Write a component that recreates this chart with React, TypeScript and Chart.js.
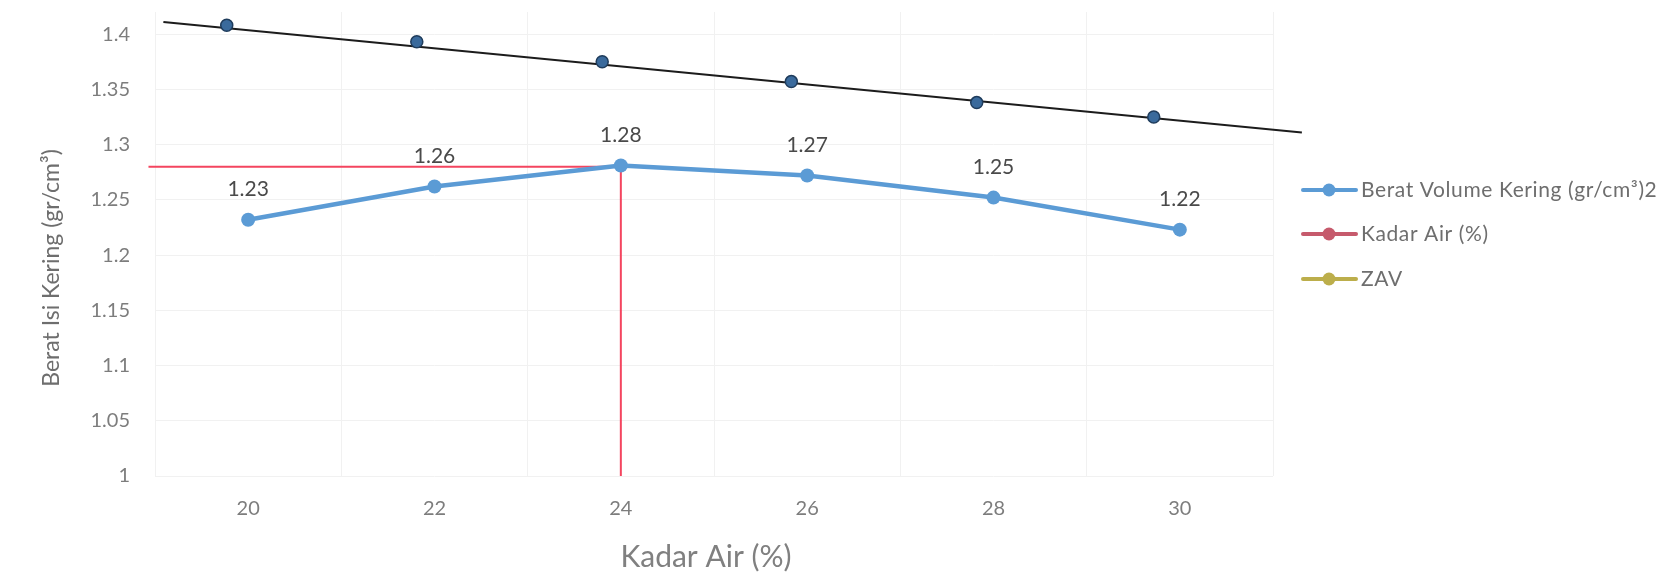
import React, { useEffect, useRef } from "react";
import { Chart, registerables } from "chart.js";

Chart.register(...registerables);

// ---- data ----
const kadarAir = [20, 22, 24, 26, 28, 30];
const beratKering = [1.232, 1.262, 1.281, 1.272, 1.252, 1.223];
const beratLabels = ["1.23", "1.26", "1.28", "1.27", "1.25", "1.22"];

const zavX = [19.77, 21.81, 23.8, 25.83, 27.82, 29.72];
const zavY = [1.408, 1.393, 1.375, 1.357, 1.338, 1.325];

const trendX = [19.09, 31.31];
const trendY = [1.411, 1.311];

const optimumX = [18.93, 24, 24];
const optimumY = [1.28, 1.28, 1.0];

const xTickValues = [20, 22, 24, 26, 28, 30];
const xGridValues = [19, 21, 23, 25, 27, 29, 31];
const yTickValues = [1, 1.05, 1.1, 1.15, 1.2, 1.25, 1.3, 1.35, 1.4];
const yMin = 1;
const yMax = 1.42;
const xMin = 19;
const xMax = 31;

const yTitle = "Berat Isi Kering (gr/cm³)";
const xTitle = "Kadar Air (%)";
const legendLabels = ["Berat Volume Kering (gr/cm³)2", "Kadar Air (%)", "ZAV"];
const legendColors = ["#5B9BD5", "#C65A6C", "#BCAE4B"];

const FONT = "Lato, 'Open Sans', sans-serif";

const toPoints = (xs: number[], ys: number[]) => xs.map((x, i) => ({ x, y: ys[i] }));

export default function App() {
  const ref = useRef<HTMLCanvasElement | null>(null);

  useEffect(() => {
    document.body.style.margin = "0";
    const canvas = ref.current;
    if (!canvas) return;

    const dataLabelPlugin = {
      id: "dataLabelPlugin",
      afterDatasetsDraw(chart: any) {
        const meta = chart.getDatasetMeta(0);
        const ctx = chart.ctx;
        ctx.save();
        ctx.font = `21px ${FONT}`;
        ctx.fillStyle = "#4a4a4a";
        ctx.textAlign = "center";
        ctx.textBaseline = "middle";
        meta.data.forEach((pt: any, i: number) => {
          ctx.fillText(beratLabels[i], pt.x, pt.y - 30);
        });
        ctx.restore();
      },
    };

    const textPlugin = {
      id: "customText",
      afterDraw(chart: any) {
        const ctx = chart.ctx;
        const area = chart.chartArea;
        // y-axis title
        ctx.save();
        ctx.translate(52, 268);
        ctx.rotate(-Math.PI / 2);
        ctx.font = `23px ${FONT}`;
        ctx.fillStyle = "#6e6e6e";
        ctx.textAlign = "center";
        ctx.textBaseline = "middle";
        ctx.fillText(yTitle, 0, 0);
        ctx.restore();

        // x-axis title
        ctx.save();
        ctx.font = `30px ${FONT}`;
        ctx.fillStyle = "#808080";
        ctx.textAlign = "center";
        ctx.textBaseline = "middle";
        ctx.fillText(xTitle, 706, 557);
        ctx.restore();

        // legend
        const x0 = area.right + 30;
        const ys = [190, 234, 279];
        ctx.save();
        legendLabels.forEach((label, i) => {
          const y = ys[i];
          ctx.strokeStyle = legendColors[i];
          ctx.lineWidth = 4;
          ctx.lineCap = "round";
          ctx.beginPath();
          ctx.moveTo(x0, y);
          ctx.lineTo(x0 + 53, y);
          ctx.stroke();
          ctx.fillStyle = legendColors[i];
          ctx.beginPath();
          ctx.arc(x0 + 26, y, 6.5, 0, Math.PI * 2);
          ctx.fill();
          ctx.font = `21px ${FONT}`;
          (ctx as any).letterSpacing = "0.6px";
          ctx.fillStyle = "#6e6e6e";
          ctx.textAlign = "left";
          ctx.textBaseline = "middle";
          ctx.fillText(label, x0 + 58, y);
        });
        ctx.restore();
      },
    };

    const chart = new Chart(canvas, {
      type: "scatter",
      data: {
        datasets: [
          {
            label: legendLabels[0],
            data: toPoints(kadarAir, beratKering),
            showLine: true,
            borderColor: "#5B9BD5",
            backgroundColor: "#5B9BD5",
            borderWidth: 4.5,
            pointRadius: 7,
            pointBorderWidth: 0,
            order: 1,
          },
          {
            label: legendLabels[1],
            data: toPoints(optimumX, optimumY),
            showLine: true,
            borderColor: "#F4455F",
            backgroundColor: "#F4455F",
            borderWidth: 2,
            pointRadius: 0,
            clip: false as any,
            order: 2,
          },
          {
            label: "Trend",
            data: toPoints(trendX, trendY),
            showLine: true,
            borderColor: "#1c1c1c",
            borderWidth: 2,
            pointRadius: 0,
            clip: false as any,
            order: 4,
          },
          {
            label: legendLabels[2],
            data: toPoints(zavX, zavY),
            showLine: false,
            backgroundColor: "#3A6A9C",
            borderColor: "#1f3c5c",
            borderWidth: 1.5,
            pointRadius: 6,
            clip: false as any,
            order: 3,
          },
        ],
      },
      options: {
        responsive: false,
        animation: false,
        layout: { padding: { left: 0, top: 12, right: 404, bottom: 0 } },
        plugins: {
          legend: { display: false },
          tooltip: { enabled: false },
        },
        scales: {
          x: {
            type: "linear",
            min: xMin,
            max: xMax,
            border: { display: false },
            afterBuildTicks: (s: any) => {
              s.ticks = [...xGridValues, ...xTickValues]
                .sort((a, b) => a - b)
                .map((value) => ({ value }));
            },
            grid: {
              drawTicks: false,
              color: (c: any) =>
                c.tick && xGridValues.includes(c.tick.value) ? "#f1f1f1" : "rgba(0,0,0,0)",
            },
            ticks: {
              autoSkip: false,
              maxRotation: 0,
              padding: 21,
              color: "#7d7d7d",
              font: { family: FONT, size: 20 },
              callback: (v: any) => (xTickValues.includes(Number(v)) ? String(v) : ""),
            },
            title: { display: false },
            afterFit: (s: any) => {
              s.height = 111;
              s.paddingLeft = 0;
              s.paddingRight = 0;
            },
          },
          y: {
            type: "linear",
            min: yMin,
            max: yMax,
            border: { display: false },
            grid: { drawTicks: false, color: "#f1f1f1" },
            afterBuildTicks: (s: any) => {
              s.ticks = yTickValues.map((value) => ({ value }));
            },
            ticks: {
              autoSkip: false,
              padding: 25,
              color: "#7d7d7d",
              font: { family: FONT, size: 20 },
              callback: (v: any) => String(Number(Number(v).toFixed(2))),
            },
            title: { display: false },
            afterFit: (s: any) => {
              s.width = 155;
              s.paddingTop = 0;
              s.paddingBottom = 0;
            },
          },
        },
      },
      plugins: [dataLabelPlugin, textPlugin],
    });

    return () => chart.destroy();
  }, []);

  return (
    <div style={{ width: 1677, height: 587, background: "#ffffff" }}>
      <canvas ref={ref} width={1677} height={587} style={{ display: "block" }} />
    </div>
  );
}
